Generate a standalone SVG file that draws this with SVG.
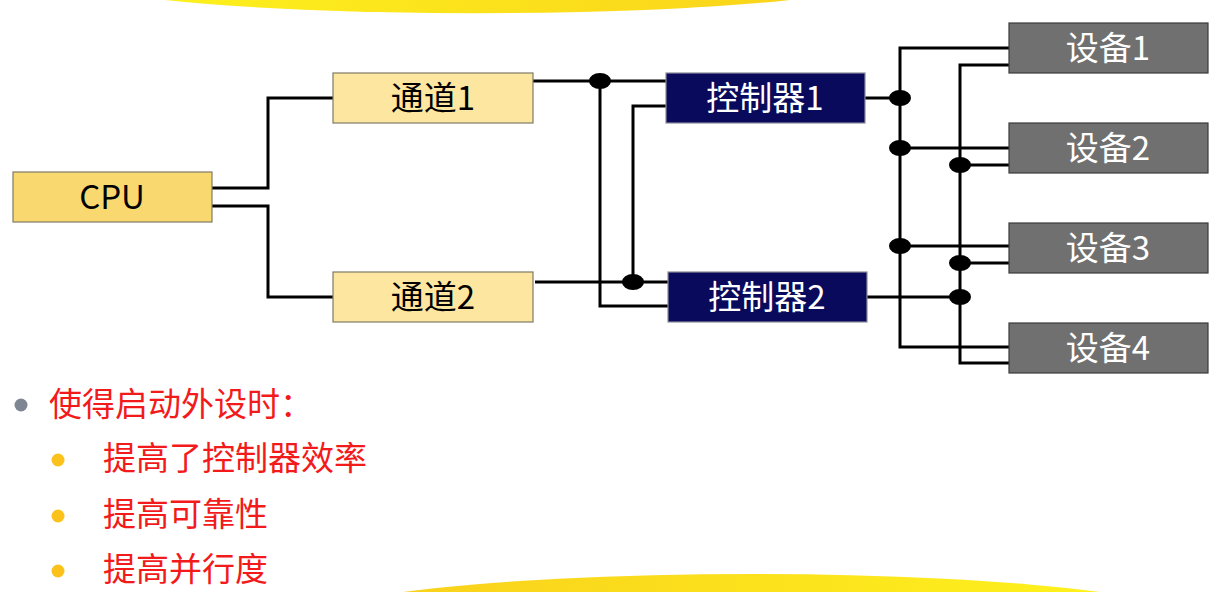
<svg xmlns="http://www.w3.org/2000/svg" width="1213" height="592" viewBox="0 0 1213 592">
  <defs>
    <linearGradient id="gTop" x1="0" y1="0" x2="1" y2="0">
      <stop offset="0" stop-color="#FDF01D"/>
      <stop offset="1" stop-color="#FAD41B"/>
    </linearGradient>
    <linearGradient id="gBottom" x1="0" y1="0" x2="1" y2="0">
      <stop offset="0" stop-color="#F9D11C"/>
      <stop offset="1" stop-color="#FEF11D"/>
    </linearGradient>
  </defs>
  <style>
    .lbl { font-family: "Noto Sans CJK SC", "Noto Sans", sans-serif; font-size: 33px; text-anchor: middle; }
    .dark { fill: #000000; }
    .light { fill: #FFFFFF; }
    .cpu { fill: #F9D86F; stroke: #7F7A66; stroke-width: 1.2; }
    .chan { fill: #FCE6A0; stroke: #7F7A66; stroke-width: 1.2; }
    .ctrl { fill: #0A0A5C; stroke: #8A8A9A; stroke-width: 1.2; }
    .dev { fill: #707070; stroke: #3A3A3A; stroke-width: 1.2; }
    .wire { fill: none; stroke: #000000; stroke-width: 3; stroke-linejoin: miter; }
    .dot { fill: #000000; }
    .bullet { font-family: "Noto Sans CJK SC", "Noto Sans", sans-serif; font-size: 33px; fill: #F21A1A; }
  </style>

  <!-- decorative bands -->
  <path d="M165,0 A400,35 0 0 0 790,0 Z" fill="url(#gTop)"/>
  <path d="M403,592 A450,49 0 0 1 1100,592 Z" fill="url(#gBottom)"/>

  <!-- connectors -->
  <g id="connectors">
    <path class="wire" d="M212,188 H268 V98 H333"/>
    <path class="wire" d="M212,206 H268 V297 H333"/>
    <path class="wire" d="M533,81 H666"/>
    <path class="wire" d="M600,81 V306 H668"/>
    <path class="wire" d="M666,106 H633 V282"/>
    <path class="wire" d="M535,282 H668"/>
    <path class="wire" d="M865,98 H900"/>
    <path class="wire" d="M1009,48 H900 V347 H1011"/>
    <path class="wire" d="M900,148 H1009"/>
    <path class="wire" d="M900,246 H1009"/>
    <path class="wire" d="M1009,65 H960 V363 H1009"/>
    <path class="wire" d="M960,165 H1009"/>
    <path class="wire" d="M960,263 H1009"/>
    <path class="wire" d="M867,297 H960"/>
    <ellipse class="dot" cx="600" cy="81" rx="11" ry="8"/>
    <ellipse class="dot" cx="633" cy="282" rx="11" ry="8"/>
    <ellipse class="dot" cx="900" cy="98" rx="11" ry="8"/>
    <ellipse class="dot" cx="900" cy="148" rx="11" ry="8"/>
    <ellipse class="dot" cx="900" cy="246" rx="11" ry="8"/>
    <ellipse class="dot" cx="960" cy="165" rx="11" ry="8"/>
    <ellipse class="dot" cx="960" cy="263" rx="11" ry="8"/>
    <ellipse class="dot" cx="960" cy="297" rx="11" ry="8"/>
  </g>

  <!-- nodes -->
  <g id="cpu">
    <rect class="cpu" x="13" y="172" width="199" height="50"/>
    <text class="lbl dark" x="112" y="209">CPU</text>
  </g>
  <g id="channel1">
    <rect class="chan" x="333" y="73" width="200" height="50"/>
    <text class="lbl dark" x="433" y="110">通道1</text>
  </g>
  <g id="channel2">
    <rect class="chan" x="333" y="272" width="200" height="50"/>
    <text class="lbl dark" x="433" y="309">通道2</text>
  </g>
  <g id="controller1">
    <rect class="ctrl" x="666" y="73" width="199" height="50"/>
    <text class="lbl light" x="765" y="110">控制器1</text>
  </g>
  <g id="controller2">
    <rect class="ctrl" x="668" y="272" width="199" height="50"/>
    <text class="lbl light" x="767" y="309">控制器2</text>
  </g>
  <g id="device1">
    <rect class="dev" x="1009" y="23" width="199" height="50"/>
    <text class="lbl light" x="1108" y="60">设备1</text>
  </g>
  <g id="device2">
    <rect class="dev" x="1009" y="123" width="199" height="50"/>
    <text class="lbl light" x="1108" y="160">设备2</text>
  </g>
  <g id="device3">
    <rect class="dev" x="1009" y="223" width="199" height="50"/>
    <text class="lbl light" x="1108" y="260">设备3</text>
  </g>
  <g id="device4">
    <rect class="dev" x="1009" y="323" width="199" height="50"/>
    <text class="lbl light" x="1108" y="360">设备4</text>
  </g>

  <!-- bullet list -->
  <g id="notes">
    <circle cx="21" cy="405" r="6.5" fill="#7E8694"/>
    <text class="bullet" x="49" y="416">使得启动外设时：</text>
    <circle cx="58" cy="460" r="6.5" fill="#FBC21C"/>
    <text class="bullet" x="103" y="470">提高了控制器效率</text>
    <circle cx="58" cy="516" r="6.5" fill="#FBC21C"/>
    <text class="bullet" x="103" y="526">提高可靠性</text>
    <circle cx="58" cy="571" r="6.5" fill="#FBC21C"/>
    <text class="bullet" x="103" y="581">提高并行度</text>
  </g>
</svg>
